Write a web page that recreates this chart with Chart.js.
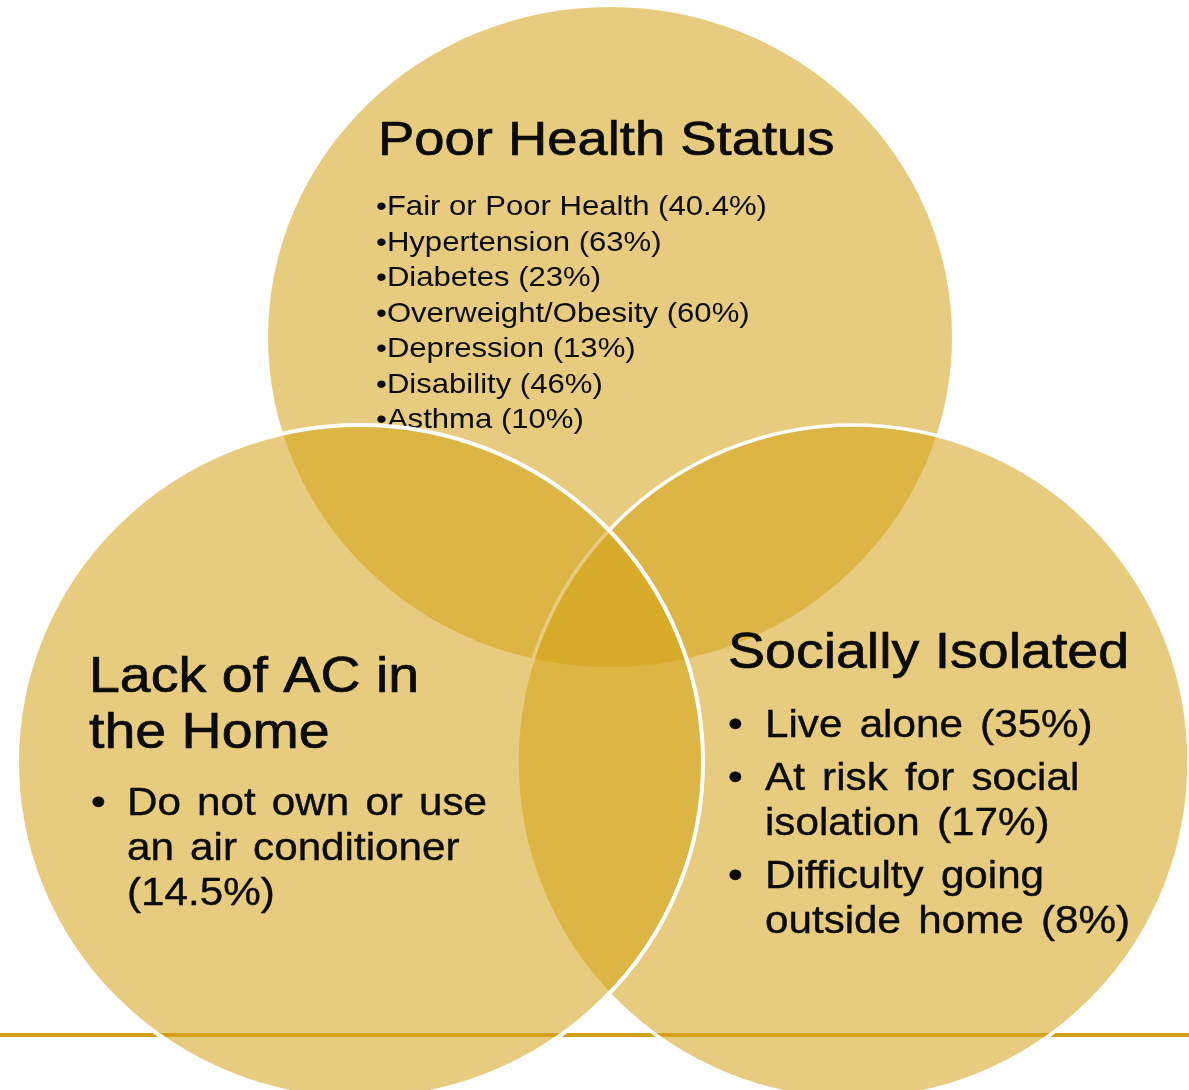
<!DOCTYPE html>
<html>
<head>
<meta charset="utf-8">
<script src="https://cdn.jsdelivr.net/npm/chart.js@4.4.1/dist/chart.umd.min.js"></script>
<style>
  html, body { margin: 0; padding: 0; background: #ffffff; }
  #wrap { width: 1189px; height: 1090px; }
</style>
</head>
<body>
<div id="wrap"><canvas id="venn" width="1189" height="1090"></canvas></div>
<script>
// the three sets
var setNames = ['Poor Health Status', 'Lack of AC in\nthe Home', 'Socially Isolated'];

// circle geometry for each set, in chart units (x: 0-1189, y: 0-1090 top down)
var circleX = [610, 360, 853];
var circleY = [337, 762, 762];
var circleRx = [342, 343, 336];
var circleRy = [330, 337, 337];

// facts listed in each circle
var healthItems = ['Fair or Poor Health', 'Hypertension', 'Diabetes', 'Overweight/Obesity', 'Depression', 'Disability', 'Asthma'];
var healthPct = [40.4, 63, 23, 60, 13, 46, 10];
var acItems = ['Do not own or use\nan air conditioner\n'];
var acPct = [14.5];
var socialItems = ['Live alone', 'At risk for social\nisolation', 'Difficulty going\noutside home'];
var socialPct = [35, 17, 8];

var FONT = '"Liberation Sans", Arial, sans-serif';
var STRETCH = 1.11;

function withPct(label, pct) {
  var s = label + ' (' + pct + '%)';
  return s.replace('\n (', '\n(');
}

function drawText(ctx, str, x, y, size, spacing) {
  ctx.save();
  ctx.translate(x, y);
  ctx.scale(STRETCH, 1);
  ctx.font = size + 'px ' + FONT;
  if (spacing) ctx.wordSpacing = spacing + 'px';
  ctx.fillStyle = '#0b0b0b';
  ctx.textBaseline = 'alphabetic';
  ctx.fillText(str, 0, 0);
  if (size > 30) {
    // the slide text is a touch heavier than plain Liberation Sans
    ctx.strokeStyle = '#0b0b0b';
    ctx.lineWidth = size > 40 ? 0.7 : 0.4;
    ctx.strokeText(str, 0, 0);
  }
  ctx.restore();
}

function ellipse(ctx, sx, sy, i) {
  var px = sx.getPixelForValue(circleX[i]);
  var py = sy.getPixelForValue(circleY[i]);
  var rx = Math.abs(sx.getPixelForValue(circleX[i] + circleRx[i]) - px);
  var ry = Math.abs(sy.getPixelForValue(circleY[i] + circleRy[i]) - py);
  ctx.beginPath();
  ctx.ellipse(px, py, rx, ry, 0, 0, Math.PI * 2);
}

var vennPlugin = {
  id: 'venn',
  beforeDatasetsDraw: function(chart) {
    var ctx = chart.ctx;
    var sx = chart.scales.x, sy = chart.scales.y;
    var P = function(v) { return sx.getPixelForValue(v); };
    var Q = function(v) { return sy.getPixelForValue(v); };
    var fill = 'rgba(212, 162, 22, 0.55)';

    ctx.save();
    // gold rule across the slide
    ctx.strokeStyle = '#d4a017';
    ctx.lineWidth = 4;
    ctx.beginPath();
    ctx.moveTo(P(0), Q(1035));
    ctx.lineTo(P(1189), Q(1035));
    ctx.stroke();

    // top circle + its text
    ellipse(ctx, sx, sy, 0);
    ctx.fillStyle = fill;
    ctx.fill();

    drawText(ctx, setNames[0], P(378), Q(155), 49);
    for (var i = 0; i < healthItems.length; i++) {
      drawText(ctx, '\u2022' + withPct(healthItems[i], healthPct[i]), P(376), Q(215 + i * 35.5), 28);
    }

    // right circle, then left circle on top
    ellipse(ctx, sx, sy, 2);
    ctx.fillStyle = fill;
    ctx.fill();
    ctx.strokeStyle = '#ffffff';
    ctx.lineWidth = 3.5;
    ctx.stroke();

    ellipse(ctx, sx, sy, 1);
    ctx.fillStyle = fill;
    ctx.fill();
    ctx.strokeStyle = '#ffffff';
    ctx.lineWidth = 4;
    ctx.stroke();

    // left text
    var t = setNames[1].split('\n');
    drawText(ctx, t[0], P(89), Q(692), 50);
    drawText(ctx, t[1], P(89), Q(748), 50);
    var y = 815;
    for (var j = 0; j < acItems.length; j++) {
      var lines = withPct(acItems[j], acPct[j]).split('\n');
      drawText(ctx, '\u2022', P(91), Q(y), 38);
      for (var k = 0; k < lines.length; k++) {
        drawText(ctx, lines[k], P(127), Q(y), 38, 4);
        y += 45;
      }
    }

    // right text
    drawText(ctx, setNames[2], P(728), Q(668), 50);
    y = 737;
    for (var m = 0; m < socialItems.length; m++) {
      var ls = withPct(socialItems[m], socialPct[m]).split('\n');
      drawText(ctx, '\u2022', P(728), Q(y), 38);
      for (var n = 0; n < ls.length; n++) {
        drawText(ctx, ls[n], P(765), Q(y), 38, 5);
        y += 45;
      }
      y += 8;
    }
    ctx.restore();
  }
};

var ctx = document.getElementById('venn').getContext('2d');
var chart = new Chart(ctx, {
  type: 'scatter',
  data: {
    datasets: [{
      label: 'Sets',
      data: circleX.map(function(x, i) { return { x: x, y: circleY[i] }; }),
      pointRadius: 0,
      pointHoverRadius: 0
    }]
  },
  options: {
    responsive: false,
    animation: false,
    layout: { padding: 0 },
    scales: {
      x: { type: 'linear', min: 0, max: 1189, display: false },
      y: { type: 'linear', min: 0, max: 1090, reverse: true, display: false }
    },
    plugins: {
      legend: { display: false },
      tooltip: { enabled: false }
    }
  },
  plugins: [vennPlugin]
});
</script>
</body>
</html>
